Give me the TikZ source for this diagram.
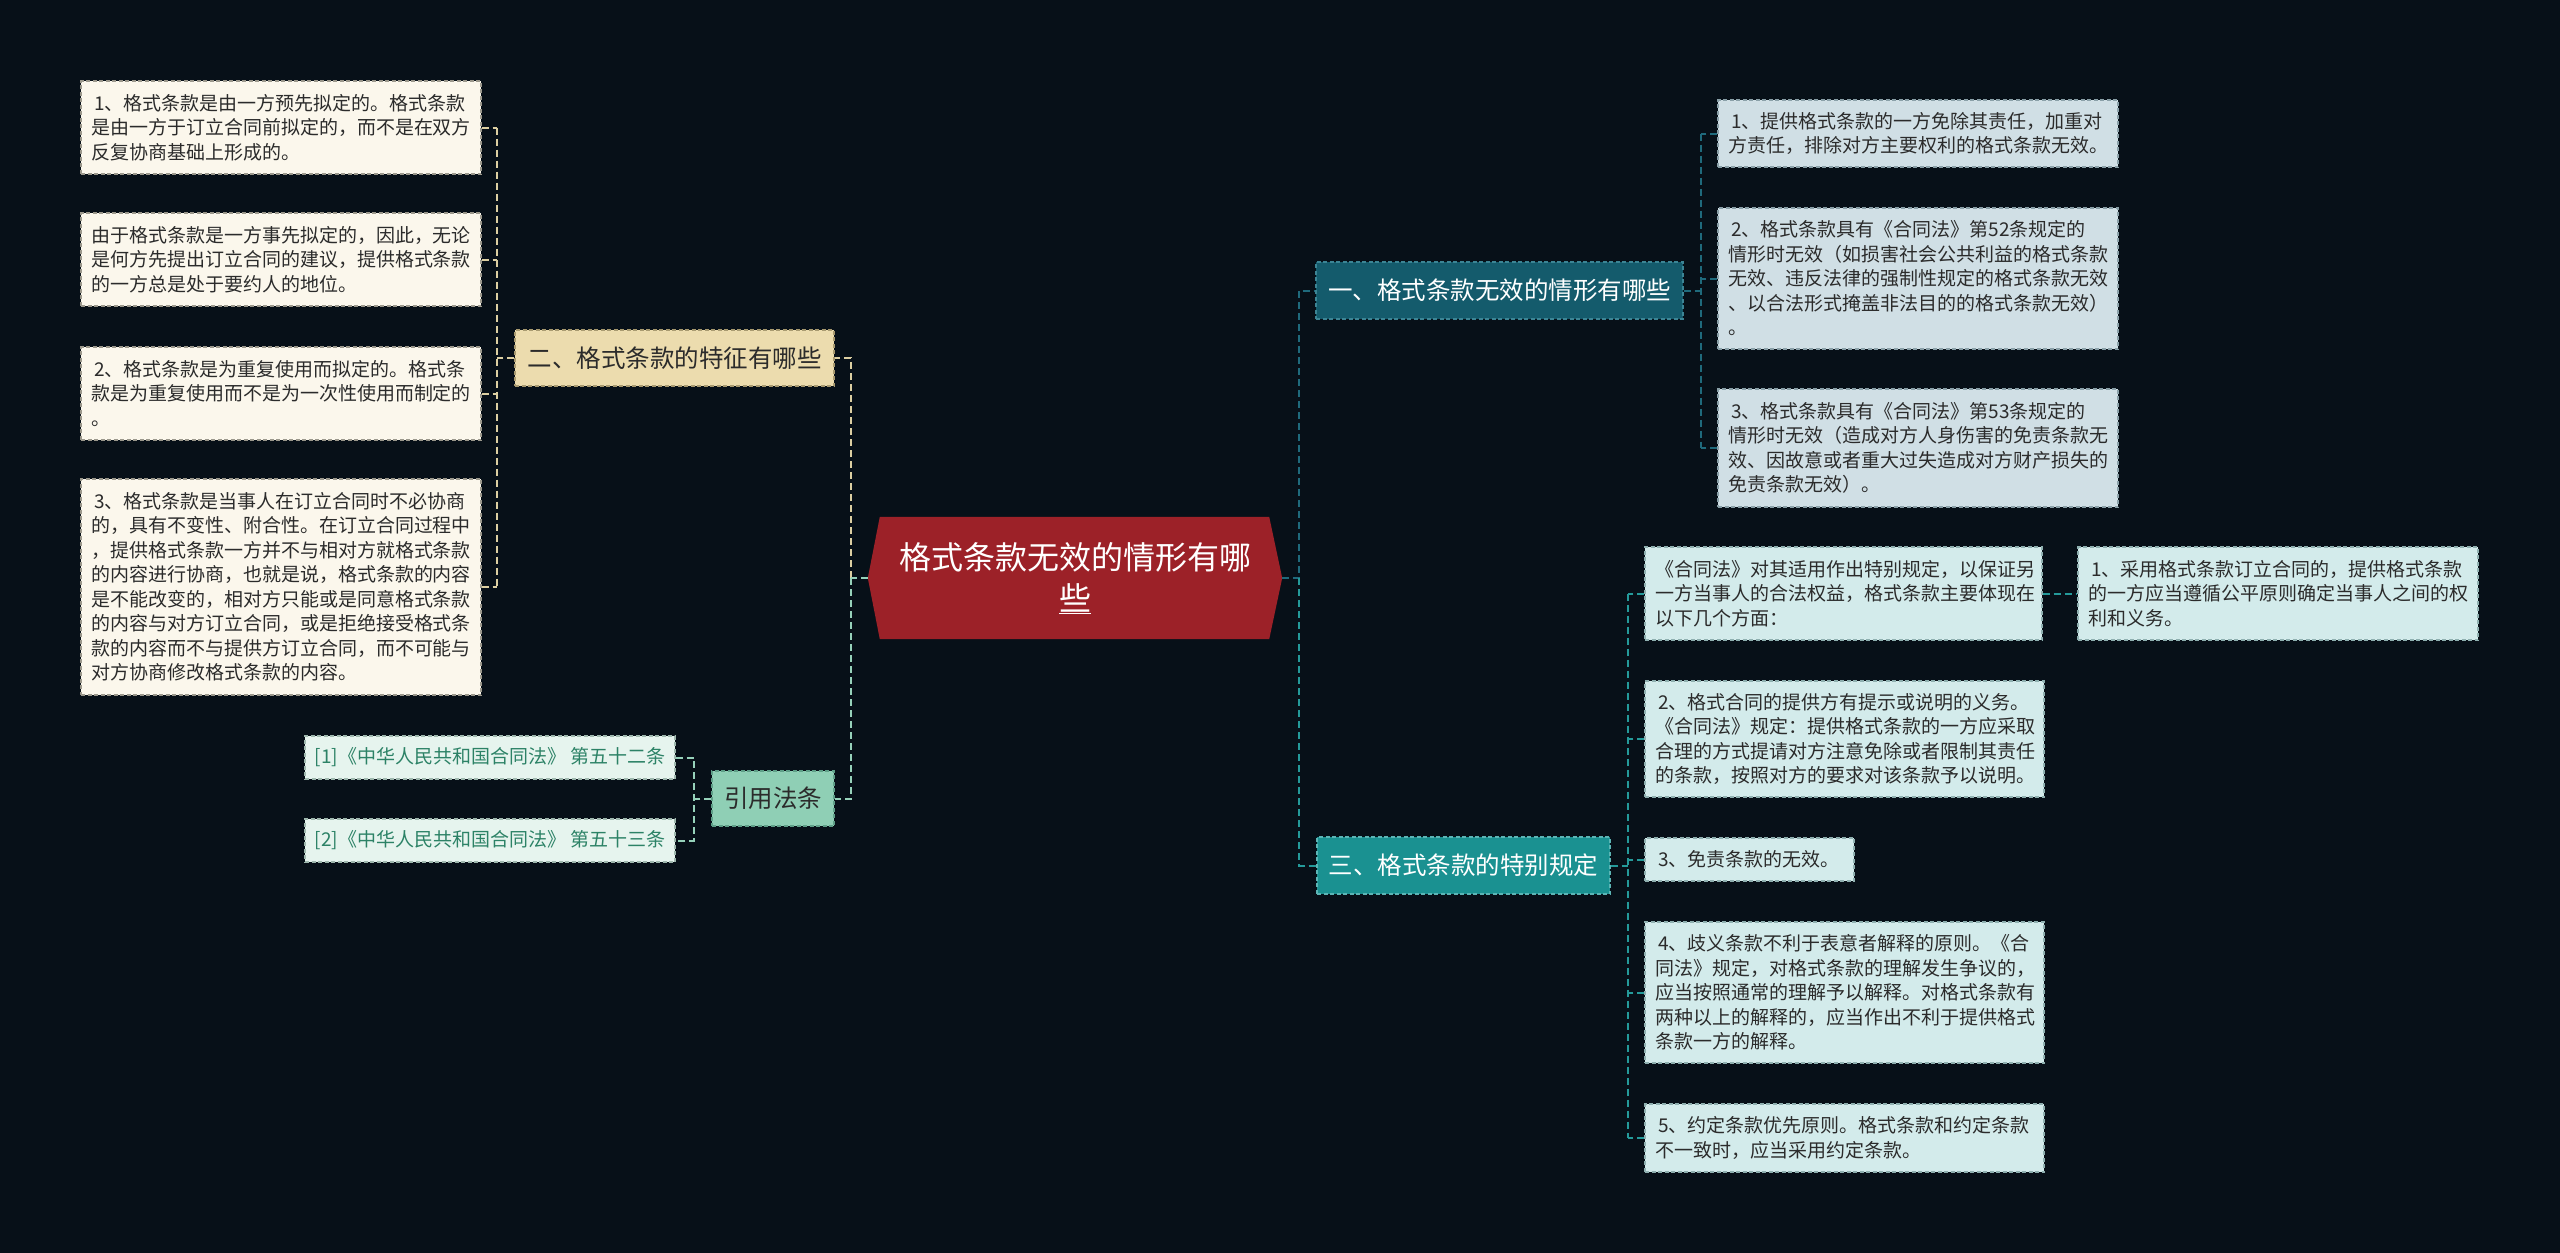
\documentclass[tikz,border=0pt]{standalone}
\usepackage{fontspec}
\newfontfamily\cjk{Noto Sans CJK SC}
\usetikzlibrary{calc}
\newcommand{\myBody}{\cjk\fontsize{19pt}{24.5pt}\selectfont}
\newcommand{\myTopic}{\cjk\fontsize{24.5pt}{30pt}\selectfont}
\newcommand{\myRoot}{\cjk\fontsize{32pt}{41pt}\selectfont}
\definecolor{bgc}{HTML}{071018}
\definecolor{rootred}{HTML}{9C2128}
\definecolor{creamfill}{HTML}{FBF7EC}
\definecolor{creamdraw}{HTML}{9B988C}
\definecolor{tanfill}{HTML}{ECDCAE}
\definecolor{tandraw}{HTML}{A89A70}
\definecolor{mintfill}{HTML}{8FCFB5}
\definecolor{mintdraw}{HTML}{5F9F88}
\definecolor{reffill}{HTML}{E6F4EE}
\definecolor{refdraw}{HTML}{9FB8AE}
\definecolor{reftext}{HTML}{2C8266}
\definecolor{topblue}{HTML}{145B6C}
\definecolor{topbluedraw}{HTML}{3C8595}
\definecolor{topteal}{HTML}{1A9191}
\definecolor{toptealdraw}{HTML}{5CB5B5}
\definecolor{bluefill}{HTML}{D0DFE5}
\definecolor{bluedraw}{HTML}{8AA0A8}
\definecolor{cyanfill}{HTML}{D3EBEB}
\definecolor{cyandraw}{HTML}{8FB0B0}
\definecolor{txt}{HTML}{2B2B2B}
\definecolor{lnCream}{HTML}{DCCFA2}
\definecolor{lnMint}{HTML}{96D2BA}
\definecolor{lnBlue}{HTML}{1F6A7C}
\definecolor{lnTeal}{HTML}{249A9A}
\pgfdeclarelayer{bg}
\pgfsetlayers{bg,main}
\tikzset{
  leaf/.style={rectangle, line width=1.3pt, dash pattern=on 4pt off 2.5pt,
    inner xsep=10pt, inner ysep=2pt, align=left, font=\myBody, text=txt,
    text width=380pt},
  cleaf/.style={leaf, fill=creamfill, draw=creamdraw},
  bleaf/.style={leaf, fill=bluefill, draw=bluedraw},
  sleaf/.style={leaf, fill=cyanfill, draw=cyandraw},
  rleaf/.style={rectangle, line width=1.3pt, dash pattern=on 4pt off 2.5pt,
    inner sep=0pt, font=\myBody, fill=reffill, draw=refdraw, text=reftext,
    minimum width=370pt, minimum height=43pt},
  topic/.style={rectangle, line width=1.3pt, dash pattern=on 4pt off 2.5pt,
    inner sep=0pt, font=\myTopic},
  cn/.style={line width=2pt, dash pattern=on 7pt off 4pt},
  cnCream/.style={cn, draw=lnCream},
  cnMint/.style={cn, draw=lnMint},
  cnBlue/.style={cn, draw=lnBlue},
  cnTeal/.style={cn, draw=lnTeal},
}
\begin{document}
\begin{tikzpicture}[x=1pt,y=-1pt]
\begin{pgfonlayer}{bg}
\fill[bgc] (0,0) rectangle (2560,1253);
\end{pgfonlayer}
\useasboundingbox (0,0) rectangle (2560,1253);

% root
\node[font=\myRoot, text=white, align=center, text width=380pt,
  minimum width=414pt, minimum height=122pt, inner sep=0pt] (root) at (1075,578)
  {格式条款无效的情形有哪\\\underline{些}};
\begin{pgfonlayer}{bg}
\fill[rootred] (root.west) -- ([xshift=12pt]root.north west) -- ([xshift=-13pt]root.north east)
  -- (root.east) -- ([xshift=-13pt]root.south east) -- ([xshift=12pt]root.south west) -- cycle;
\end{pgfonlayer}

% topics
\node[topic, fill=tanfill, draw=tandraw, text=txt, minimum width=319pt, minimum height=56pt] (tB) at (674.5,358) {二、格式条款的特征有哪些};
\node[topic, fill=mintfill, draw=mintdraw, text=txt, minimum width=122pt, minimum height=55pt] (tD) at (773,798.5) {引用法条};
\node[topic, fill=topblue, draw=topbluedraw, text=white, minimum width=367pt, minimum height=57pt] (tA) at (1499.5,290.5) {一、格式条款无效的情形有哪些};
\node[topic, fill=topteal, draw=toptealdraw, text=white, minimum width=293pt, minimum height=57pt] (tC) at (1463.5,865.5) {三、格式条款的特别规定};

% left leaves
\node[cleaf, minimum height=93pt] (L1) at (281,127.5) {\,1、格式条款是由一方预先拟定的。格式条款\\是由一方于订立合同前拟定的，而不是在双方\\反复协商基础上形成的。};
\node[cleaf, minimum height=93pt] (L2) at (281,259.5) {由于格式条款是一方事先拟定的，因此，无论\\是何方先提出订立合同的建议，提供格式条款\\的一方总是处于要约人的地位。};
\node[cleaf, minimum height=93pt] (L3) at (281,393.5) {\,2、格式条款是为重复使用而拟定的。格式条\\款是为重复使用而不是为一次性使用而制定的\\。};
\node[cleaf, minimum height=216pt] (L4) at (281,587) {\,3、格式条款是当事人在订立合同时不必协商\\的，具有不变性、附合性。在订立合同过程中\\，提供格式条款一方并不与相对方就格式条款\\的内容进行协商，也就是说，格式条款的内容\\是不能改变的，相对方只能或是同意格式条款\\的内容与对方订立合同，或是拒绝接受格式条\\款的内容而不与提供方订立合同，而不可能与\\对方协商修改格式条款的内容。};

% references
\node[rleaf] (F1) at (490,757.5) {[1]《中华人民共和国合同法》 第五十二条};
\node[rleaf] (F2) at (490,840.5) {[2]《中华人民共和国合同法》 第五十三条};

% right leaves (branch one)
\node[bleaf, minimum height=67pt] (R1) at (1918,133.5) {\,1、提供格式条款的一方免除其责任，加重对\\方责任，排除对方主要权利的格式条款无效。};
\node[bleaf, minimum height=141pt] (R2) at (1918,278.5) {\,2、格式条款具有《合同法》第52条规定的\\情形时无效（如损害社会公共利益的格式条款\\无效、违反法律的强制性规定的格式条款无效\\、以合法形式掩盖非法目的的格式条款无效）\\。};
\node[bleaf, minimum height=118pt] (R3) at (1918,448) {\,3、格式条款具有《合同法》第53条规定的\\情形时无效（造成对方人身伤害的免责条款无\\效、因故意或者重大过失造成对方财产损失的\\免责条款无效）。};

% right leaves (branch three)
\node[sleaf, minimum height=93pt, text width=377pt] (S1) at (1843.5,593.5) {《合同法》对其适用作出特别规定，以保证另\\一方当事人的合法权益，格式条款主要体现在\\以下几个方面：};
\node[sleaf, minimum height=93pt] (U1) at (2278,593.5) {\,1、采用格式条款订立合同的，提供格式条款\\的一方应当遵循公平原则确定当事人之间的权\\利和义务。};
\node[sleaf, minimum height=116pt, text width=379pt] (S2) at (1844.5,739) {\,2、格式合同的提供方有提示或说明的义务。\\《合同法》规定：提供格式条款的一方应采取\\合理的方式提请对方注意免除或者限制其责任\\的条款，按照对方的要求对该条款予以说明。};
\node[sleaf, minimum height=43pt, text width=189pt] (S3) at (1749.5,859.5) {\,3、免责条款的无效。};
\node[sleaf, minimum height=141pt, text width=379pt] (S4) at (1844.5,992.5) {\,4、歧义条款不利于表意者解释的原则。《合\\同法》规定，对格式条款的理解发生争议的，\\应当按照通常的理解予以解释。对格式条款有\\两种以上的解释的，应当作出不利于提供格式\\条款一方的解释。};
\node[sleaf, minimum height=68pt, text width=379pt] (S5) at (1844.5,1138) {\,5、约定条款优先原则。格式条款和约定条款\\不一致时，应当采用约定条款。};

% junction coordinates
\coordinate (jL) at (497,0);
\coordinate (jF) at (694,0);
\coordinate (jR0) at (851,0);
\coordinate (jR1) at (1299,0);
\coordinate (jA) at (1701,0);
\coordinate (jC) at (1628,0);

% left branch connectors
\draw[cnCream] (tB.west) -- (tB.west -| jL);
\foreach \n in {L1,L2,L3,L4} \draw[cnCream] (\n.east) -- (\n.east -| jL);
\draw[cnCream] (L1.east -| jL) -- (L4.east -| jL);
\draw[cnCream] (root.west -| jR0) -- (tB.east -| jR0) -- (tB.east);
\draw[cnMint] (root.west -| jR0) -- (tD.east -| jR0) -- (tD.east);
\draw[cnMint] (root.west) -- (root.west -| jR0);

% references connectors
\draw[cnMint] (tD.west) -- (tD.west -| jF);
\draw[cnMint] (F1.east) -- (F1.east -| jF) -- (F2.east -| jF) -- (F2.east);

% right connectors
\draw[cnBlue] (root.east) -- (root.east -| jR1) -- (tA.west -| jR1) -- (tA.west);
\draw[cnTeal] (root.east -| jR1) -- (tC.west -| jR1) -- (tC.west);
\draw[cnBlue] (tA.east) -- (tA.east -| jA);
\foreach \n in {R1,R2,R3} \draw[cnBlue] (\n.west) -- (\n.west -| jA);
\draw[cnBlue] (R1.west -| jA) -- (R3.west -| jA);
\draw[cnTeal] (tC.east) -- (tC.east -| jC);
\foreach \n in {S1,S2,S3,S4,S5} \draw[cnTeal] (\n.west) -- (\n.west -| jC);
\draw[cnTeal] (S1.west -| jC) -- (S5.west -| jC);
\draw[cnTeal] (S1.east) -- (U1.west);
\end{tikzpicture}
\end{document}
